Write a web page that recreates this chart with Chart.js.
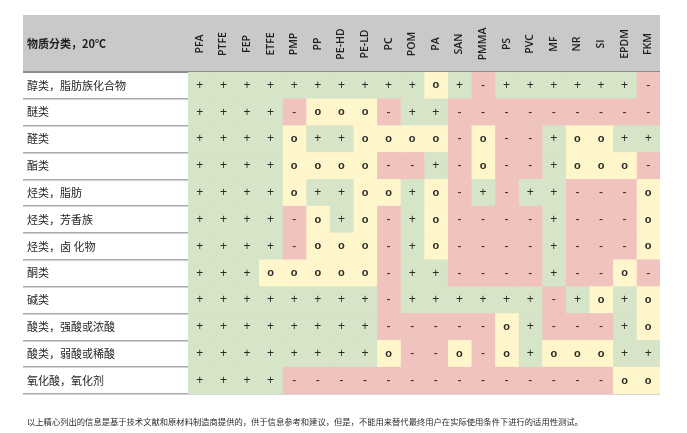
<!DOCTYPE html>
<html>
<head>
<meta charset="utf-8">
<style>
	html, body { margin: 0; padding: 0; background: #fff; }
	canvas { display: block; }
</style>
<script src="https://cdn.jsdelivr.net/npm/chart.js@4.4.0/dist/chart.umd.min.js"></script>
</head>
<body>
<canvas id="resistance" width="687" height="433"></canvas>
<script>
( function () {
	'use strict';

	// column headers (plastics / elastomers)
	var materials = [ 'PFA', 'PTFE', 'FEP', 'ETFE', 'PMP', 'PP', 'PE-HD', 'PE-LD', 'PC', 'POM',
		'PA', 'SAN', 'PMMA', 'PS', 'PVC', 'MF', 'NR', 'SI', 'EPDM', 'FKM' ];

	// row headers (substance classes)
	var categories = [ '醇类，脂肪族化合物', '醚类', '醛类', '酯类', '烃类，脂肪', '烃类，芳香族',
		'烃类，卤 化物', '酮类', '碱类', '酸类，强酸或浓酸', '酸类，弱酸或稀酸', '氧化酸，氧化剂' ];

	// + resistant, o limited, - not resistant
	var ratings = [
		[ '+', '+', '+', '+', '+', '+', '+', '+', '+', '+', 'o', '+', '-', '+', '+', '+', '+', '+', '+', '-' ],
		[ '+', '+', '+', '+', '-', 'o', 'o', 'o', '-', '+', '+', '-', '-', '-', '-', '-', '-', '-', '-', '-' ],
		[ '+', '+', '+', '+', 'o', '+', '+', 'o', 'o', 'o', 'o', '-', 'o', '-', '-', '+', 'o', 'o', '+', '+' ],
		[ '+', '+', '+', '+', 'o', 'o', 'o', 'o', '-', '-', '+', '-', 'o', '-', '-', '+', 'o', 'o', 'o', '-' ],
		[ '+', '+', '+', '+', 'o', '+', '+', 'o', 'o', '+', 'o', '-', '+', '-', '+', '+', '-', '-', '-', 'o' ],
		[ '+', '+', '+', '+', '-', 'o', '+', 'o', '-', '+', 'o', '-', '-', '-', '-', '+', '-', '-', '-', 'o' ],
		[ '+', '+', '+', '+', '-', 'o', 'o', 'o', '-', '+', 'o', '-', '-', '-', '-', '+', '-', '-', '-', 'o' ],
		[ '+', '+', '+', 'o', 'o', 'o', 'o', 'o', '-', '+', '+', '-', '-', '-', '-', '+', '-', '-', 'o', '-' ],
		[ '+', '+', '+', '+', '+', '+', '+', '+', '-', '+', '+', '+', '+', '+', '+', '-', '+', 'o', '+', 'o' ],
		[ '+', '+', '+', '+', '+', '+', '+', '+', '-', '-', '-', '-', '-', 'o', '+', '-', '-', '-', '+', 'o' ],
		[ '+', '+', '+', '+', '+', '+', '+', '+', 'o', '-', '-', 'o', '-', 'o', '+', 'o', 'o', 'o', '+', '+' ],
		[ '+', '+', '+', '+', '-', '-', '-', '-', '-', '-', '-', '-', '-', '-', '-', '-', '-', '-', 'o', 'o' ]
	];

	var headerTitle = '物质分类，20℃';
	var footnote = '以上精心列出的信息是基于技术文献和原材料制造商提供的，供于信息参考和建议，但是，不能用来替代最终用户在实际使用条件下进行的适用性测试。';

	var colors = { '+': '#d6e4c8', 'o': '#fff7cb', '-': '#f1c3bf' };
	var cjkFont = '"Noto Sans CJK SC", "Noto Sans", sans-serif';

	// one floating-bar dataset per material column
	var datasets = materials.map( function ( name, col ) {
		return {
			label: name,
			data: categories.map( function () {
				return [ col, col + 1 ];
			} ),
			backgroundColor: categories.map( function ( cat, row ) {
				return colors[ ratings[ row ][ col ] ];
			} ),
			borderWidth: 0,
			grouped: false,
			barPercentage: 1,
			categoryPercentage: 1,
		};
	} );

	var tableDecor = {
		id: 'tableDecor',
		beforeDraw: function ( chart ) {
			var ctx = chart.ctx;
			var area = chart.chartArea;
			ctx.save();
			ctx.fillStyle = '#c9c9c9';
			ctx.fillRect( 23, 15, area.right - 23, area.top - 15 );
			ctx.restore();
		},
		afterDraw: function ( chart ) {
			var ctx = chart.ctx;
			var x = chart.scales.x;
			var y = chart.scales.y;
			ctx.save();

			// header
			ctx.fillStyle = '#1e1e1e';
			ctx.font = 'bold 11px ' + cjkFont;
			ctx.textAlign = 'left';
			ctx.textBaseline = 'middle';
			ctx.fillText( headerTitle, 27, 44 );

			ctx.font = '600 10.5px "Open Sans", "Liberation Sans", sans-serif';
			ctx.textAlign = 'center';
			materials.forEach( function ( name, col ) {
				ctx.save();
				ctx.translate( x.getPixelForValue( col + 0.5 ), 44 );
				ctx.rotate( -Math.PI / 2 );
				ctx.fillText( name, 0, 0 );
				ctx.restore();
			} );

			// symbols
			ctx.fillStyle = '#2a2a2a';
			ratings.forEach( function ( row, r ) {
				row.forEach( function ( mark, col ) {
					ctx.font = ( mark === 'o' ? 'bold 11px ' : '12px ' ) + '"Liberation Sans", sans-serif';
					ctx.fillText( mark, x.getPixelForValue( col + 0.5 ), y.getPixelForValue( r ) );
				} );
			} );

			// footnote
			ctx.fillStyle = '#2a2a2a';
			ctx.font = '8.3px ' + cjkFont;
			ctx.textAlign = 'left';
			ctx.fillText( footnote, 27, 422 );
			ctx.restore();
		},
	};

	new Chart( document.getElementById( 'resistance' ), {
		type: 'bar',
		data: {
			labels: categories,
			datasets: datasets,
		},
		plugins: [ tableDecor ],
		options: {
			indexAxis: 'y',
			responsive: false,
			animation: false,
			layout: {
				padding: { left: 27, right: 27, top: 72, bottom: 39 },
			},
			plugins: {
				legend: { display: false },
				tooltip: { enabled: false },
			},
			scales: {
				x: {
					type: 'linear',
					display: false,
					min: 0,
					max: materials.length,
				},
				y: {
					type: 'category',
					z: 1,
					border: { display: false },
					grid: {
						offset: true,
						tickLength: 165,
						color: function ( ctx ) {
							return ctx.index === 0 ? '#8c8c8c' : '#a9a9a9';
						},
						lineWidth: function ( ctx ) {
							return ctx.index === 0 ? 2 : 1.5;
						},
					},
					ticks: {
						crossAlign: 'far',
						color: '#262626',
						font: { family: cjkFont, size: 11 },
					},
					afterFit: function ( scale ) {
						scale.width = 161;
					},
				},
			},
		},
	} );
} )();
</script>
</body>
</html>
